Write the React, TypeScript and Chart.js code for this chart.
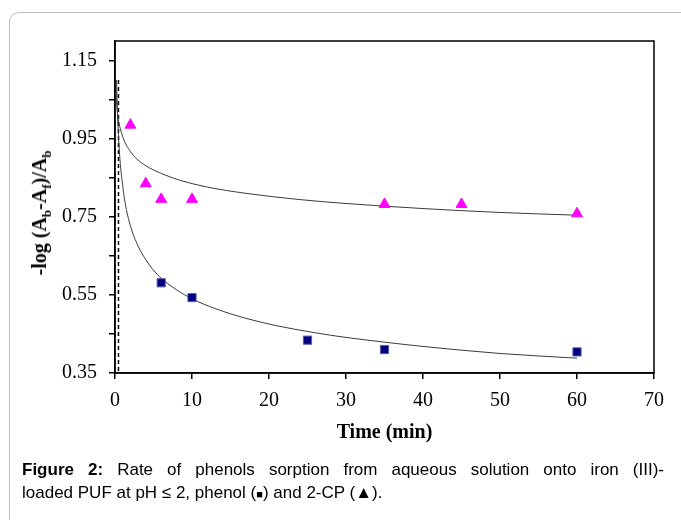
import React, { useEffect, useRef } from "react";
import { Chart, registerables } from "chart.js";

Chart.register(...registerables);

// 2-CP (triangles)
const cpTime = [2, 4, 6, 10, 35, 45, 60];
const cpValue = [0.985, 0.835, 0.795, 0.795, 0.782, 0.782, 0.758];

// phenol (squares)
const phenolTime = [6, 10, 25, 35, 60];
const phenolValue = [0.581, 0.543, 0.434, 0.41, 0.404];

// fitted curve (2-CP)
const cpCurveTime = [0.1, 0.2, 0.43, 0.7, 1, 1.3, 2, 3, 4.5, 6.5, 8.5, 12, 17, 24, 30, 40, 50, 60];
const cpCurveValue = [1.09, 1.045, 1.0, 0.975, 0.955, 0.94, 0.917, 0.895, 0.875, 0.857, 0.843, 0.826, 0.81, 0.794, 0.784, 0.771, 0.761, 0.754];

// fitted curve (phenol)
const phenolCurveTime = [0.2, 0.3, 0.45, 0.65, 1, 1.3, 2, 3, 4, 5.6, 8, 10, 13, 17, 21, 26, 30, 35, 40, 50, 60];
const phenolCurveValue = [1.1, 1.03, 0.96, 0.895, 0.83, 0.787, 0.727, 0.675, 0.64, 0.6, 0.563, 0.54, 0.515, 0.49, 0.471, 0.453, 0.441, 0.429, 0.418, 0.4, 0.388];

// dashed vertical marker line
const dashTime = [0.45, 0.45];
const dashValue = [1.1, 0.35];

const xTicks = [0, 10, 20, 30, 40, 50, 60, 70];
const yTickValues = [0.35, 0.45, 0.55, 0.65, 0.75, 0.85, 0.95, 1.05, 1.15];
const yTickLabels = [0.35, 0.55, 0.75, 0.95, 1.15];

const pts = (xs: number[], ys: number[]) => xs.map((x, i) => ({ x, y: ys[i] }));

const framePlugin = {
  id: "frame",
  afterDraw(chart: any) {
    const { ctx, chartArea } = chart;
    ctx.save();
    ctx.strokeStyle = "#000";
    ctx.lineWidth = 1.5;
    ctx.strokeRect(chartArea.left, chartArea.top, chartArea.right - chartArea.left, chartArea.bottom - chartArea.top);
    ctx.restore();
  },
};

export default function App() {
  const ref = useRef<HTMLCanvasElement>(null);

  useEffect(() => {
    if (!ref.current) return;
    const chart = new Chart(ref.current, {
      type: "scatter",
      data: {
        datasets: [
          {
            label: "phenol",
            data: pts(phenolTime, phenolValue),
            pointStyle: "rect",
            pointRadius: 5.8,
            backgroundColor: "#000080",
            borderColor: "#5c5cb0",
            borderWidth: 1,
            showLine: false,
          },
          {
            label: "2-CP",
            data: pts(cpTime, cpValue),
            pointStyle: "triangle",
            pointRadius: 6.3,
            backgroundColor: "#ff00ff",
            borderColor: "#ff00ff",
            borderWidth: 1,
            showLine: false,
          },
          {
            label: "2-CP fit",
            data: pts(cpCurveTime, cpCurveValue),
            showLine: true,
            pointRadius: 0,
            borderColor: "#3a3a3a",
            borderWidth: 1,
            cubicInterpolationMode: "monotone",
          },
          {
            label: "phenol fit",
            data: pts(phenolCurveTime, phenolCurveValue),
            showLine: true,
            pointRadius: 0,
            borderColor: "#3a3a3a",
            borderWidth: 1,
            cubicInterpolationMode: "monotone",
          },
          {
            label: "dash",
            data: pts(dashTime, dashValue),
            showLine: true,
            pointRadius: 0,
            borderColor: "#000",
            borderWidth: 1.5,
            borderDash: [4, 3],
          },
        ],
      },
      options: {
        responsive: false,
        animation: false,
        layout: { padding: { left: 0, top: 41, right: 27, bottom: 0 } },
        plugins: { legend: { display: false }, tooltip: { enabled: false } },
        scales: {
          x: {
            type: "linear",
            min: 0,
            max: 70,
            afterBuildTicks: (s: any) => {
              s.ticks = xTicks.map((v) => ({ value: v }));
            },
            afterFit: (s: any) => {
              s.height = 147;
            },
            grid: { display: true, drawOnChartArea: false, drawTicks: true, tickLength: 6, color: "#000", lineWidth: 1.5 },
            border: { display: true, color: "#000", width: 1.5 },
            ticks: {
              color: "#000",
              padding: 10,
              maxRotation: 0,
              font: { family: "'Liberation Serif', serif", size: 20 },
            },
            title: {
              display: true,
              text: "Time (min)",
              color: "#000",
              font: { family: "'Liberation Serif', serif", size: 20, weight: "bold" },
              padding: { top: 0, bottom: 75 },
            },
          },
          y: {
            type: "linear",
            min: 0.35,
            max: 1.2,
            afterBuildTicks: (s: any) => {
              s.ticks = yTickValues.map((v) => ({ value: v }));
            },
            afterFit: (s: any) => {
              s.width = 115;
            },
            grid: { display: true, drawOnChartArea: false, drawTicks: true, tickLength: 6, color: "#000", lineWidth: 1.5 },
            border: { display: true, color: "#000", width: 1.5 },
            ticks: {
              color: "#000",
              padding: 12,
              font: { family: "'Liberation Serif', serif", size: 20 },
              callback: (v: any) => {
                const n = Number(v);
                return yTickLabels.some((l) => Math.abs(l - n) < 1e-6) ? n.toFixed(2) : "";
              },
            },
          },
        },
      },
      plugins: [framePlugin],
    });
    return () => chart.destroy();
  }, []);

  const captionFont = {
    fontFamily: "'Liberation Sans', Arial, sans-serif",
    fontSize: 17,
    lineHeight: "23px",
    color: "#000",
    whiteSpace: "nowrap" as const,
  };

  return (
    <div style={{ position: "absolute", left: 0, top: 0, width: 681, height: 520, overflow: "hidden", background: "#fff" }}>
      <div
        style={{
          position: "absolute",
          left: 9,
          top: 12,
          width: 720,
          height: 560,
          border: "1px solid #bdbdbd",
          borderRadius: 10,
          boxSizing: "border-box",
        }}
      />
      <canvas ref={ref} width={681} height={520} style={{ position: "absolute", left: 0, top: 0 }} />
      <div
        style={{
          position: "absolute",
          left: 43,
          top: 213,
          transform: "translate(-50%, -50%) rotate(-90deg)",
          whiteSpace: "nowrap",
          fontFamily: "'Liberation Serif', serif",
          fontWeight: "bold",
          fontSize: 20,
          color: "#000",
          lineHeight: "24px",
        }}
      >
        -log (A<sub style={{ fontSize: 13 }}>b</sub>-A<sub style={{ fontSize: 13 }}>f</sub>)/A<sub style={{ fontSize: 13 }}>b</sub>
      </div>
      <div
        style={{
          ...captionFont,
          position: "absolute",
          left: 22,
          top: 458,
          width: 642,
          textAlign: "justify",
          textAlignLast: "justify",
          whiteSpace: "normal",
        }}
      >
        <b>Figure 2:</b> Rate of phenols sorption from aqueous solution onto iron (III)-
      </div>
      <div style={{ ...captionFont, position: "absolute", left: 22, top: 481 }}>
        loaded PUF at pH ≤ 2, phenol (<span style={{ fontSize: 11 }}>■</span>) and 2-CP (▲).
      </div>
    </div>
  );
}
